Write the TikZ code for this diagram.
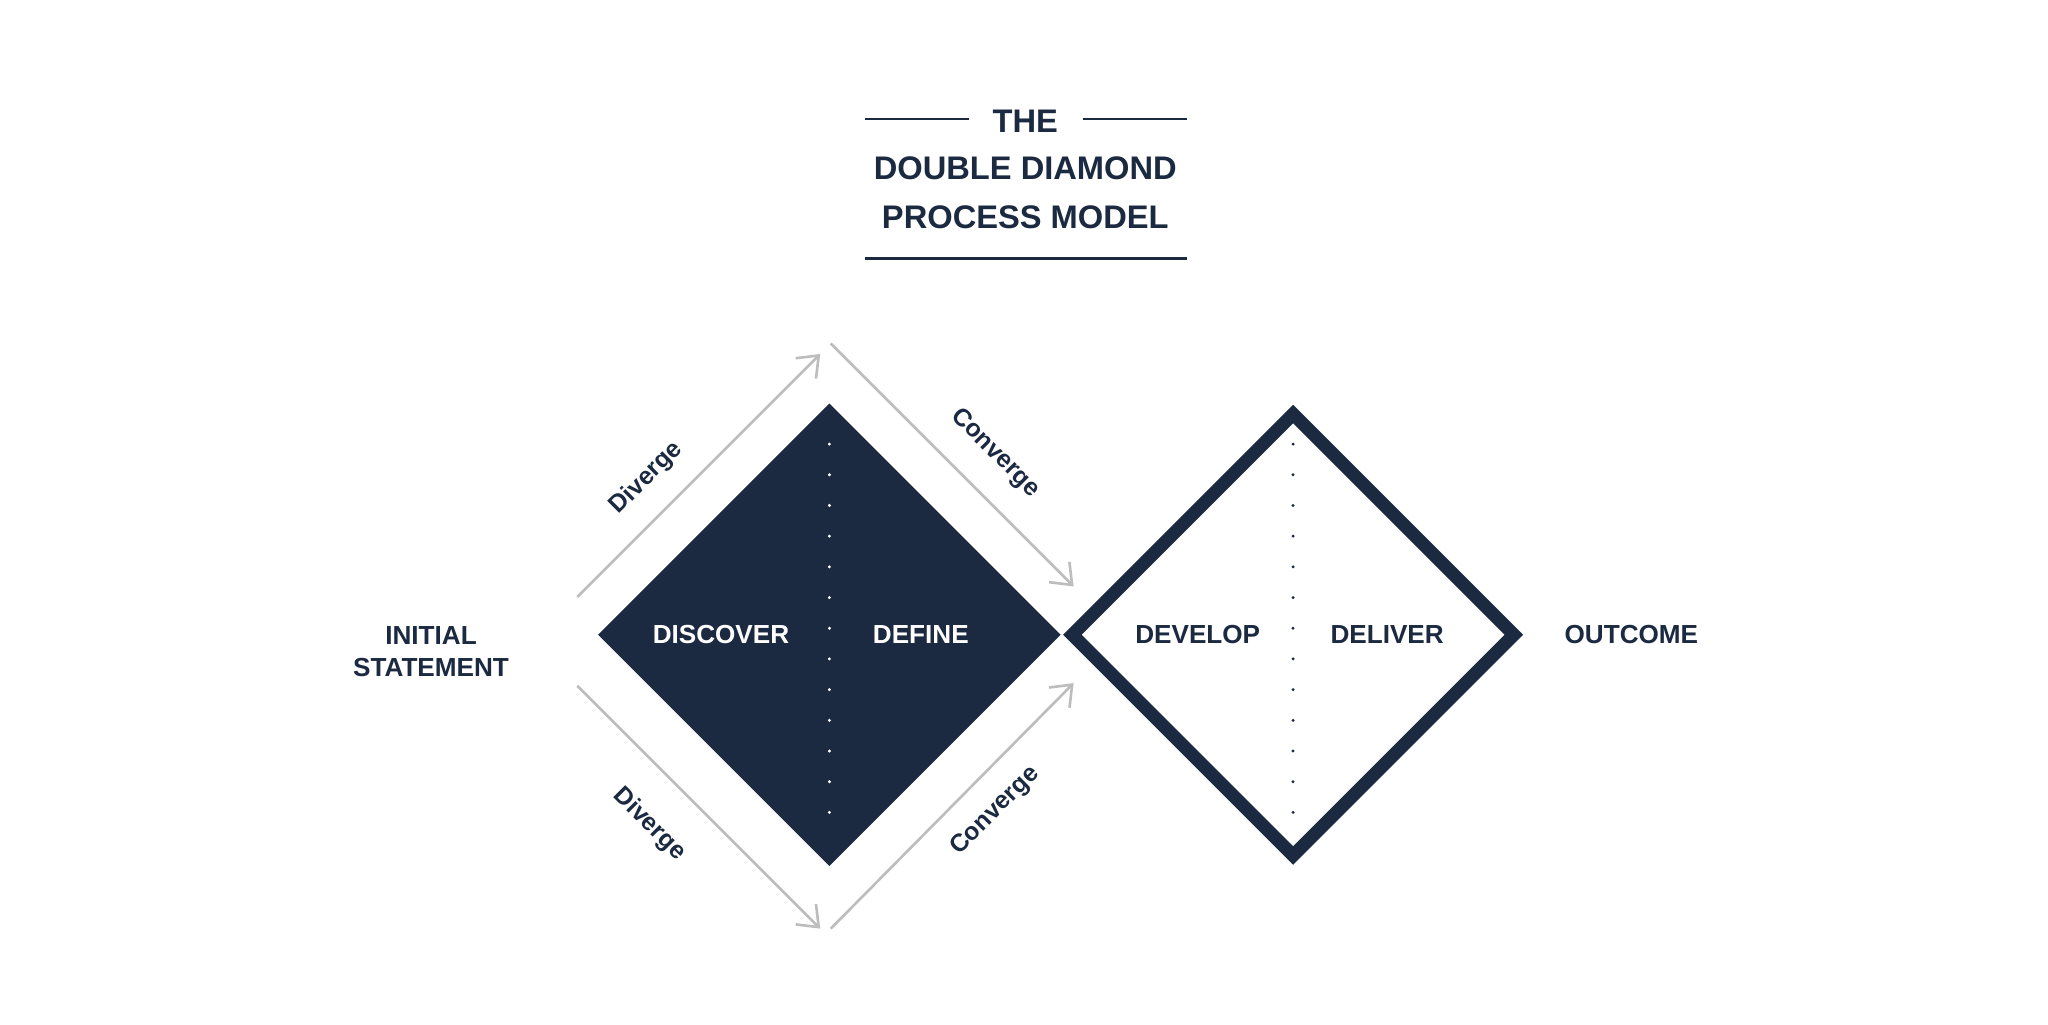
\documentclass[tikz,border=0pt]{standalone}
\usepackage{fontspec}
\setmainfont{Liberation Sans}
\usetikzlibrary{arrows.meta}
\definecolor{navy}{HTML}{1B2A41}
\definecolor{arr}{HTML}{BDBDBD}
\begin{document}
\begin{tikzpicture}[x=1pt,y=-1pt,
  lbl/.style={font=\bfseries\fontsize{20}{24}\selectfont,text=navy,align=center},
  ttl/.style={font=\bfseries\fontsize{25}{37}\selectfont,text=navy,align=center},
  flow/.style={draw=arr,line width=2pt,-{Straight Barb[length=14pt,width=22pt,line width=2pt]}},
  side/.style={font=\bfseries\fontsize{19}{22}\selectfont,text=navy}]
\useasboundingbox[fill=white] (0,0) rectangle (1568,784);
% title
\node[ttl] (t1) at (785,93) {THE};
\node[ttl] (t2) at (785,129) {DOUBLE DIAMOND};
\node[ttl] (t3) at (785,166) {PROCESS MODEL};
\draw[navy,line width=2pt] (662,91) -- (742,91) (829,91) -- (909,91) (662,198) -- (909,198);
% diamonds
\fill[navy] (458,486) -- (635,309) -- (812,486) -- (635,663) -- cycle;
\draw[white,line width=2.5pt,line cap=round,dash pattern=on 0pt off 23.5pt] (635,340) -- (635,630);
\draw[navy,line width=10pt,miter limit=10] (821,486) -- (990,317) -- (1159,486) -- (990,655) -- cycle;
\draw[navy,line width=2.5pt,line cap=round,dash pattern=on 0pt off 23.5pt] (990,340) -- (990,630);
% arrows
\coordinate (a1) at (442,457); \coordinate (a2) at (628,271);
\coordinate (b1) at (636,263); \coordinate (b2) at (822,449);
\coordinate (c1) at (442,525); \coordinate (c2) at (628,711);
\coordinate (d1) at (636,711); \coordinate (d2) at (822,523);
\draw[flow] (a1) -- (a2);
\draw[flow] (b1) -- (b2);
\draw[flow] (c1) -- (c2);
\draw[flow] (d1) -- (d2);
\node[side,rotate=45] (l1) at (495,366) {Diverge};
\node[side,rotate=-45] (l2) at (762,347) {Converge};
\node[side,rotate=-45] (l3) at (497,631) {Diverge};
\node[side,rotate=45] (l4) at (762,621) {Converge};
% labels
\node[lbl] (init) at (330,499) {INITIAL\\STATEMENT};
\node[lbl,text=white] (disc) at (552,486) {DISCOVER};
\node[lbl,text=white] (def) at (705,486) {DEFINE};
\node[lbl] (dev) at (917,486) {DEVELOP};
\node[lbl] (del) at (1062,486) {DELIVER};
\node[lbl] (out) at (1249,486) {OUTCOME};
\end{tikzpicture}
\end{document}
